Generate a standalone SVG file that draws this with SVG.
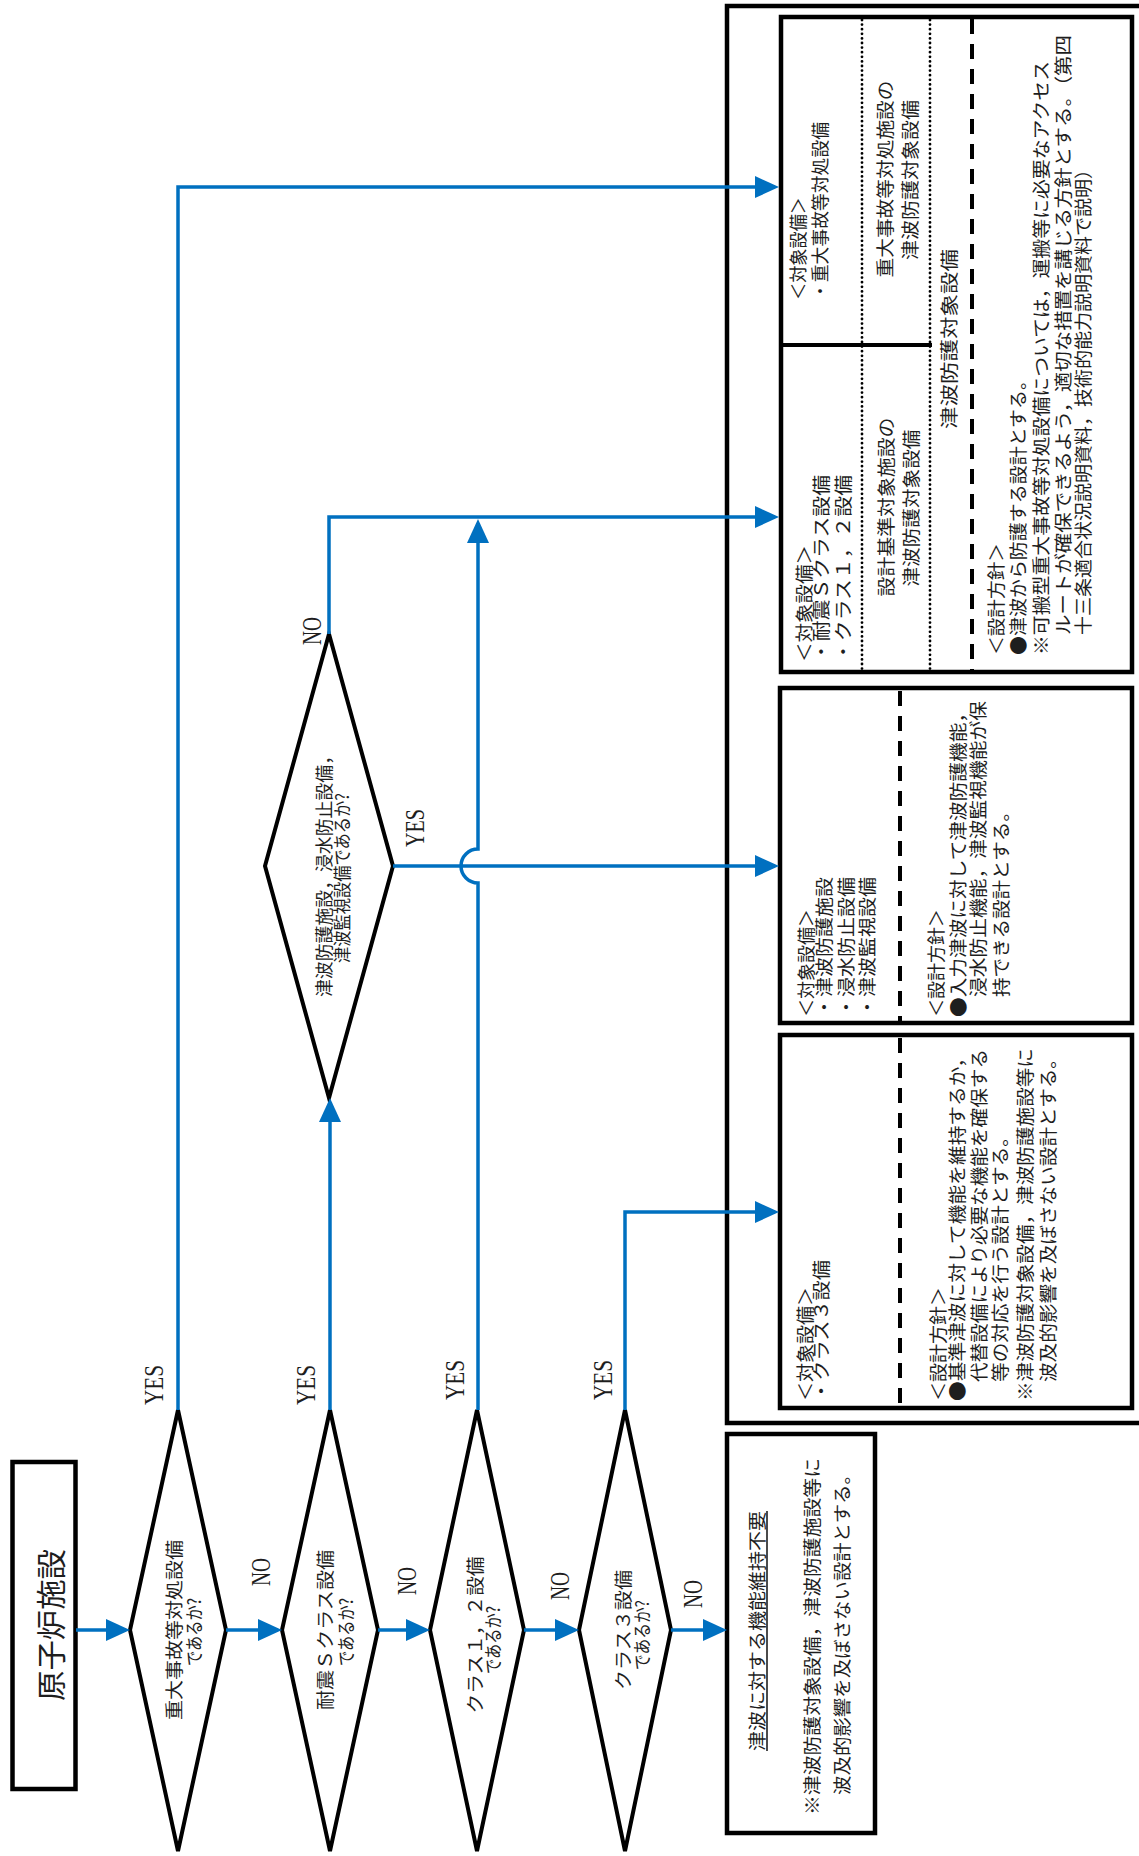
<svg xmlns="http://www.w3.org/2000/svg" width="1139" height="1856" viewBox="0 0 1139 1856">
<defs>
<style>
.bx{fill:#fff;stroke:#000;stroke-width:4.5}
.dm{fill:#fff;stroke:#000;stroke-width:4}
.cn{fill:none;stroke:#0070C0;stroke-width:3.5;marker-end:url(#ah)}
.dash{stroke:#000;stroke-width:4;stroke-dasharray:15 10}
.dot{stroke:#000;stroke-width:2.8;stroke-dasharray:0 4.6;stroke-linecap:round}
.sep{stroke:#000;stroke-width:4}
.j{font-family:"Noto Sans CJK JP","Noto Sans",sans-serif;font-size:18.5px;fill:#1e1e1e;dominant-baseline:central}
.dq{font-size:18px}
.big{font-size:30px}
.m{text-anchor:middle}
.yn{font-family:"Liberation Serif",serif;font-size:28px;fill:#1e1e1e;dominant-baseline:central;text-anchor:middle}
</style>
<marker id="ah" markerWidth="24" markerHeight="22" refX="20" refY="11" orient="auto" markerUnits="userSpaceOnUse">
<path d="M0,0 L24,11 L0,22 z" fill="#0070C0"/>
</marker>
</defs>
<rect width="1139" height="1856" fill="#fff"/>

<g id="outer">
<rect class="bx" x="727" y="6" width="430" height="1417"/>
</g>

<g id="start">
<rect class="bx" x="12.5" y="1462" width="63" height="327"/>
<text class="j big m" transform="translate(49,1625) rotate(-90)" textLength="152" lengthAdjust="spacingAndGlyphs">原子炉施設</text>
</g>

<g id="d1">
<polygon class="dm" points="178,1410 226,1630 178,1851 130,1630"/>
<text class="j dq m" transform="translate(173,1630) rotate(-90)" textLength="180" lengthAdjust="spacingAndGlyphs">重大事故等対処設備</text>
<text class="j dq m" transform="translate(193,1632) rotate(-90)" textLength="68" lengthAdjust="spacingAndGlyphs">であるか?</text>
</g>

<g id="d2">
<polygon class="dm" points="330,1410 378,1630 330,1851 282,1630"/>
<text class="j dq m" transform="translate(324,1630) rotate(-90)" textLength="160" lengthAdjust="spacingAndGlyphs">耐震Ｓクラス設備</text>
<text class="j dq m" transform="translate(345,1632) rotate(-90)" textLength="68" lengthAdjust="spacingAndGlyphs">であるか?</text>
</g>

<g id="d3">
<polygon class="dm" points="477,1410 524,1630 477,1851 430,1630"/>
<text class="j dq m" transform="translate(474,1635) rotate(-90)" textLength="157" lengthAdjust="spacingAndGlyphs">クラス１，２設備</text>
<text class="j dq m" transform="translate(492,1640) rotate(-90)" textLength="68" lengthAdjust="spacingAndGlyphs">であるか?</text>
</g>

<g id="d4">
<polygon class="dm" points="625,1410 671,1630 625,1851 579,1630"/>
<text class="j dq m" transform="translate(622,1630) rotate(-90)" textLength="120" lengthAdjust="spacingAndGlyphs">クラス３設備</text>
<text class="j dq m" transform="translate(641,1635) rotate(-90)" textLength="70" lengthAdjust="spacingAndGlyphs">であるか?</text>
</g>

<g id="d5">
<polygon class="dm" points="329,634 393,866 329,1098 265,866"/>
<text class="j dq m" transform="translate(323,872) rotate(-90)" textLength="250" lengthAdjust="spacingAndGlyphs">津波防護施設，浸水防止設備，</text>
<text class="j dq m" transform="translate(341,878) rotate(-90)" textLength="170" lengthAdjust="spacingAndGlyphs">津波監視設備であるか?</text>
</g>

<g id="boxA">
<rect class="bx" x="781" y="17" width="351" height="655"/>
<line class="sep" x1="781" y1="345" x2="932" y2="345"/>
<line class="dot" x1="862" y1="20" x2="862" y2="670"/>
<line class="dot" x1="930" y1="20" x2="930" y2="670"/>
<line class="dash" x1="972" y1="19" x2="972" y2="670"/>
<text class="j" transform="translate(797,300) rotate(-90)" textLength="103" lengthAdjust="spacingAndGlyphs">＜対象設備＞</text>
<text class="j" transform="translate(819,300) rotate(-90)" textLength="178" lengthAdjust="spacingAndGlyphs">・重大事故等対処設備</text>
<text class="j" transform="translate(803,662) rotate(-90)" textLength="117" lengthAdjust="spacingAndGlyphs">＜対象設備＞</text>
<text class="j" transform="translate(820,662) rotate(-90)" textLength="187" lengthAdjust="spacingAndGlyphs">・耐震Ｓクラス設備</text>
<text class="j" transform="translate(842,662) rotate(-90)" textLength="187" lengthAdjust="spacingAndGlyphs">・クラス１，２設備</text>
<text class="j m" transform="translate(884,179) rotate(-90)" textLength="197" lengthAdjust="spacingAndGlyphs">重大事故等対処施設の</text>
<text class="j m" transform="translate(909,180) rotate(-90)" textLength="160" lengthAdjust="spacingAndGlyphs">津波防護対象設備</text>
<text class="j m" transform="translate(885,507) rotate(-90)" textLength="179" lengthAdjust="spacingAndGlyphs">設計基準対象施設の</text>
<text class="j m" transform="translate(910,508) rotate(-90)" textLength="157" lengthAdjust="spacingAndGlyphs">津波防護対象設備</text>
<text class="j m" transform="translate(948,339) rotate(-90)" textLength="180" lengthAdjust="spacingAndGlyphs">津波防護対象設備</text>
<text class="j" transform="translate(995,655) rotate(-90)" textLength="112" lengthAdjust="spacingAndGlyphs">＜設計方針＞</text>
<text class="j" transform="translate(1017,655) rotate(-90)" textLength="284" lengthAdjust="spacingAndGlyphs">●津波から防護する設計とする。</text>
<text class="j" transform="translate(1040,655) rotate(-90)" textLength="594" lengthAdjust="spacingAndGlyphs">※可搬型重大事故等対処設備については，運搬等に必要なアクセス</text>
<text class="j" transform="translate(1062,635) rotate(-90)" textLength="600" lengthAdjust="spacingAndGlyphs">ルートが確保できるよう，適切な措置を講じる方針とする。（第四</text>
<text class="j" transform="translate(1082,635) rotate(-90)" textLength="475" lengthAdjust="spacingAndGlyphs">十三条適合状況説明資料，技術的能力説明資料で説明）</text>
</g>

<g id="boxB">
<rect class="bx" x="780" y="688" width="352" height="335"/>
<line class="dash" x1="900" y1="691" x2="900" y2="1021"/>
<text class="j" transform="translate(805,1017) rotate(-90)" textLength="108" lengthAdjust="spacingAndGlyphs">＜対象設備＞</text>
<text class="j" transform="translate(823,1017) rotate(-90)" textLength="140" lengthAdjust="spacingAndGlyphs">・津波防護施設</text>
<text class="j" transform="translate(845,1017) rotate(-90)" textLength="140" lengthAdjust="spacingAndGlyphs">・浸水防止設備</text>
<text class="j" transform="translate(866,1017) rotate(-90)" textLength="140" lengthAdjust="spacingAndGlyphs">・津波監視設備</text>
<text class="j" transform="translate(935,1017) rotate(-90)" textLength="108" lengthAdjust="spacingAndGlyphs">＜設計方針＞</text>
<text class="j" transform="translate(957,1017) rotate(-90)" textLength="314" lengthAdjust="spacingAndGlyphs">●入力津波に対して津波防護機能，</text>
<text class="j" transform="translate(977,997) rotate(-90)" textLength="296" lengthAdjust="spacingAndGlyphs">浸水防止機能，津波監視機能が保</text>
<text class="j" transform="translate(1000,997) rotate(-90)" textLength="195" lengthAdjust="spacingAndGlyphs">持できる設計とする。</text>
</g>

<g id="boxC">
<rect class="bx" x="780" y="1035" width="352" height="373"/>
<line class="dash" x1="900" y1="1038" x2="900" y2="1406"/>
<text class="j" transform="translate(804,1401) rotate(-90)" textLength="114" lengthAdjust="spacingAndGlyphs">＜対象設備＞</text>
<text class="j" transform="translate(820,1401) rotate(-90)" textLength="141" lengthAdjust="spacingAndGlyphs">・クラス３設備</text>
<text class="j" transform="translate(937,1401) rotate(-90)" textLength="114" lengthAdjust="spacingAndGlyphs">＜設計方針＞</text>
<text class="j" transform="translate(956,1401) rotate(-90)" textLength="353" lengthAdjust="spacingAndGlyphs">●基準津波に対して機能を維持するか，</text>
<text class="j" transform="translate(978,1382) rotate(-90)" textLength="333" lengthAdjust="spacingAndGlyphs">代替設備により必要な機能を確保する</text>
<text class="j" transform="translate(999,1382) rotate(-90)" textLength="255" lengthAdjust="spacingAndGlyphs">等の対応を行う設計とする。</text>
<text class="j" transform="translate(1024,1401) rotate(-90)" textLength="353" lengthAdjust="spacingAndGlyphs">※津波防護対象設備，津波防護施設等に</text>
<text class="j" transform="translate(1047,1382) rotate(-90)" textLength="333" lengthAdjust="spacingAndGlyphs">波及的影響を及ぼさない設計とする。</text>
</g>

<g id="boxD">
<rect class="bx" x="727" y="1434" width="148" height="399"/>
<text class="j m" transform="translate(756,1631) rotate(-90)" textLength="240" lengthAdjust="spacingAndGlyphs">津波に対する機能維持不要</text>
<line x1="767" y1="1511" x2="767" y2="1751" stroke="#1e1e1e" stroke-width="1.6"/>
<text class="j" transform="translate(811,1815) rotate(-90)" textLength="357" lengthAdjust="spacingAndGlyphs">※津波防護対象設備，津波防護施設等に</text>
<text class="j" transform="translate(841,1795) rotate(-90)" textLength="330" lengthAdjust="spacingAndGlyphs">波及的影響を及ぼさない設計とする。</text>
</g>

<g id="connectors">
<path class="cn" d="M76,1630 H126"/>
<path class="cn" d="M226,1630 H278"/>
<path class="cn" d="M378,1630 H426"/>
<path class="cn" d="M524,1630 H575"/>
<path class="cn" d="M671,1630 H723"/>
<path class="cn" d="M178,1410 V187 H775"/>
<path class="cn" d="M330,1410 V1102"/>
<path class="cn" d="M329,634 V517 H775"/>
<path class="cn" d="M478,1410 V883 A17,17 0 0 1 478,849 V523"/>
<path class="cn" d="M393,866 H775"/>
<path class="cn" d="M625,1410 V1212 H775"/>
</g>

<g id="labels">
<text class="yn" transform="translate(153,1385) rotate(-90)" textLength="40" lengthAdjust="spacingAndGlyphs">YES</text>
<text class="yn" transform="translate(305,1385) rotate(-90)" textLength="40" lengthAdjust="spacingAndGlyphs">YES</text>
<text class="yn" transform="translate(454,1380) rotate(-90)" textLength="40" lengthAdjust="spacingAndGlyphs">YES</text>
<text class="yn" transform="translate(602,1380) rotate(-90)" textLength="40" lengthAdjust="spacingAndGlyphs">YES</text>
<text class="yn" transform="translate(414,828) rotate(-90)" textLength="38" lengthAdjust="spacingAndGlyphs">YES</text>
<text class="yn" transform="translate(260,1572) rotate(-90)" textLength="28" lengthAdjust="spacingAndGlyphs">NO</text>
<text class="yn" transform="translate(406,1581) rotate(-90)" textLength="28" lengthAdjust="spacingAndGlyphs">NO</text>
<text class="yn" transform="translate(559,1586) rotate(-90)" textLength="28" lengthAdjust="spacingAndGlyphs">NO</text>
<text class="yn" transform="translate(692,1594) rotate(-90)" textLength="28" lengthAdjust="spacingAndGlyphs">NO</text>
<text class="yn" transform="translate(311,631) rotate(-90)" textLength="28" lengthAdjust="spacingAndGlyphs">NO</text>
</g>
</svg>
